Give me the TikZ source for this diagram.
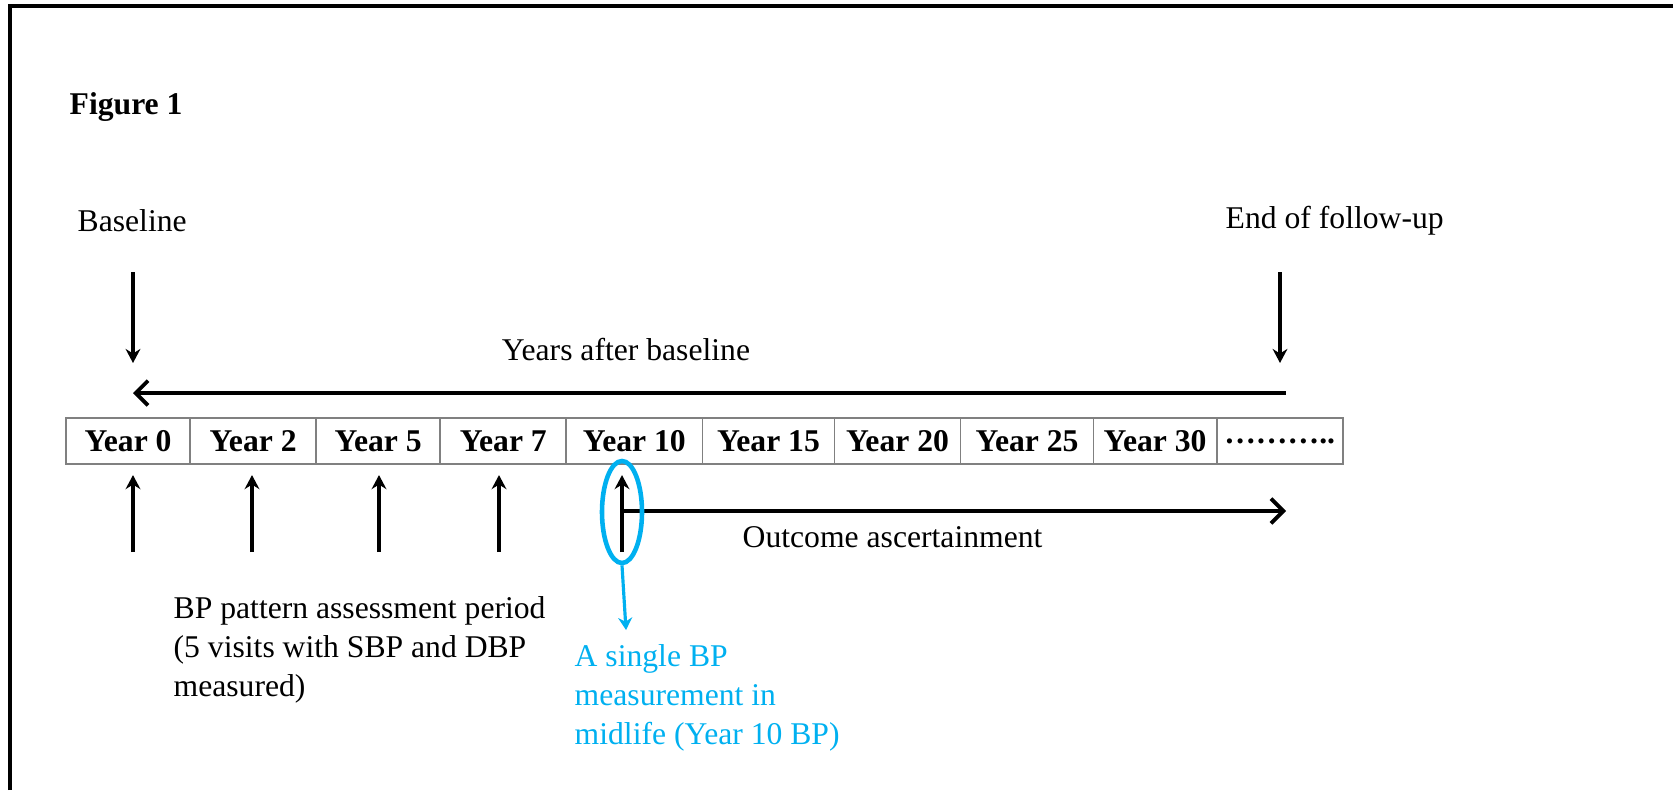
\documentclass[tikz,border=0pt]{standalone}
\usepackage{fontspec}
\setmainfont{Liberation Serif}
\usepackage{xcolor}
\usetikzlibrary{arrows.meta, shapes.geometric, positioning}
\definecolor{midblue}{RGB}{0,176,240}
\tikzstyle{plaintext} = [inner sep=0pt, font=\fontsize{9}{11}\selectfont]
\tikzstyle{yearcell} = [rectangle, draw=black!50, line width=0.5pt, minimum height=0.46cm, inner sep=0pt, outer sep=0pt, font=\fontsize{9}{11}\selectfont\bfseries]
\tikzstyle{vertarrow} = [-{Stealth[length=4pt, width=4.2pt]}, line width=1pt]
\tikzstyle{timearrow} = [-{Straight Barb[length=3.5pt, width=7pt]}, line width=1.1pt]
\tikzstyle{bluearrow} = [-{Stealth[length=3.5pt, width=4pt]}, line width=0.9pt, draw=midblue, fill=midblue]

\begin{document}
\begin{tikzpicture}[x=0.01cm, y=-0.01cm]
\useasboundingbox (0,0) rectangle (1673,790);

% frame of the figure
\draw[line width=1pt] (10,790) -- (10,6) -- (1673,6);

% titles and labels
\node[plaintext, font=\fontsize{9}{11}\selectfont\bfseries, anchor=west] (fig) at (69,107) {Figure 1};
\node[plaintext, anchor=west] (baseline) at (77,221) {Baseline};
\node[plaintext, anchor=west] (endfu) at (1225,221) {End of follow-up};
\node[plaintext] (years) at (626,349) {Years after baseline};

% row of visit years
\node[yearcell, minimum width=1.24cm, anchor=north west] (y0) at (66,418) {Year 0};
\node[yearcell, minimum width=1.26cm, right=0pt of y0] (y2) {Year 2};
\node[yearcell, minimum width=1.24cm, right=0pt of y2] (y5) {Year 5};
\node[yearcell, minimum width=1.26cm, right=0pt of y5] (y7) {Year 7};
\node[yearcell, minimum width=1.36cm, right=0pt of y7] (y10) {Year 10};
\node[yearcell, minimum width=1.32cm, right=0pt of y10] (y15) {Year 15};
\node[yearcell, minimum width=1.26cm, right=0pt of y15] (y20) {Year 20};
\node[yearcell, minimum width=1.33cm, right=0pt of y20] (y25) {Year 25};
\node[yearcell, minimum width=1.23cm, right=0pt of y25] (y30) {Year 30};
\node[yearcell, minimum width=1.26cm, right=0pt of y30] (ydots) {………..};

% arrow ends
\coordinate (basetop) at (133,272);
\coordinate (basebot) at (133,363);
\coordinate (endtop) at (1280,272);
\coordinate (endbot) at (1280,363);
\coordinate (spanL) at (133,393);
\coordinate (spanR) at (1286,393);
\coordinate (v0) at (133,552);
\coordinate (v2) at (252,552);
\coordinate (v5) at (379,552);
\coordinate (v7) at (499,552);
\coordinate (v10) at (622,552);
\coordinate (oc) at (622,511);
\coordinate (bluetip) at (626,630);

% start and end of follow-up
\draw[vertarrow] (basetop) -- (basebot);
\draw[vertarrow] (endtop) -- (endbot);
\draw[timearrow, {Straight Barb[length=3.5pt, width=7pt]}-] (spanL) -- (spanR);

% visits
\foreach \n in {0,2,5,7,10}
  \draw[vertarrow] (v\n) -- ([yshift=-0.11cm]v\n |- y\n.south);

% outcome period
\draw[timearrow] (oc) -- (oc -| spanR);
\node[plaintext, anchor=west] (outcome) at (742,537) {Outcome ascertainment};

\node[plaintext, anchor=north west, align=left] (bpperiod) at (173,596) {BP pattern assessment period\\(5 visits with SBP and DBP\\measured)};

% midlife measurement
\node[ellipse, draw=midblue, line width=1.3pt, minimum width=0.40cm, minimum height=1.02cm, inner sep=0pt] (ring) at (622,512) {};
\draw[bluearrow] (ring.south) -- (bluetip);
\node[plaintext, anchor=north west, align=left, text=midblue] (single) at (574,644) {A single BP\\measurement in\\midlife (Year 10 BP)};

\end{tikzpicture}
\end{document}
